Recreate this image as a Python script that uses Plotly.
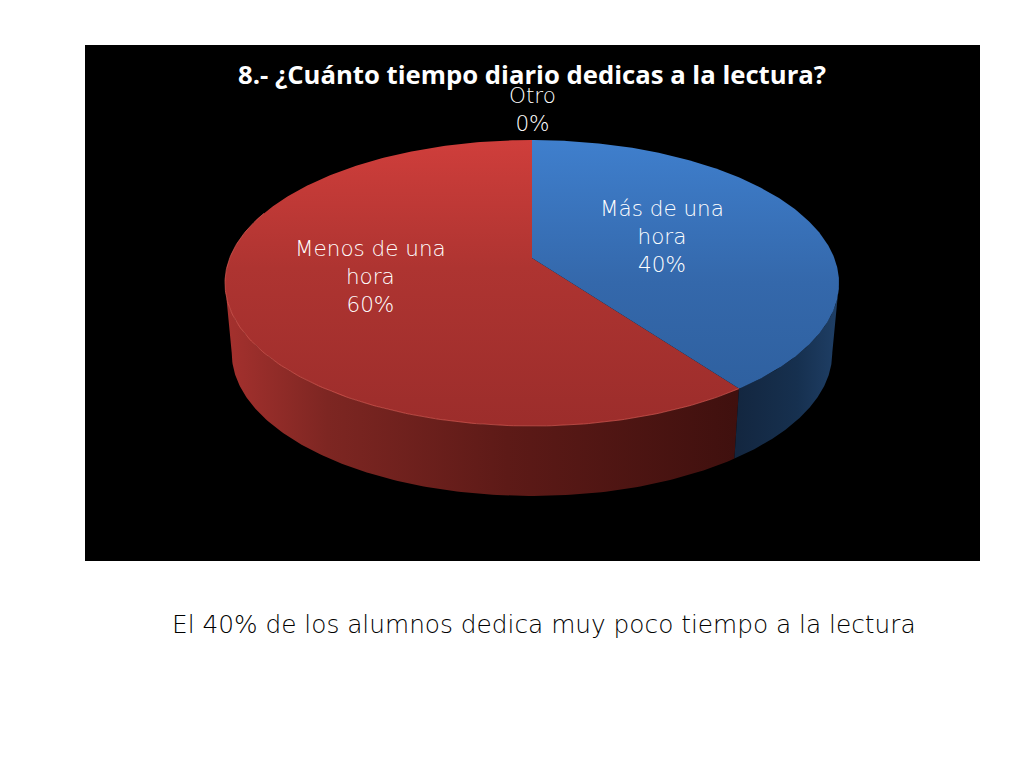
import numpy as np
import plotly.graph_objects as go

# ---- data
categories = ["Más de una hora", "Menos de una hora", "Otro"]
label_lines = ["Más de una<br>hora", "Menos de una<br>hora", "Otro"]
values = [40, 60, 0]
title_text = "8.- ¿Cuánto tiempo diario dedicas a la lectura?"
caption_text = "El 40% de los alumnos dedica muy poco tiempo a la lectura"

# ---- styling
top_scales = [
    [[0, "#3f7fcd"], [0.5, "#3468ab"], [1, "#2d5e9c"]],
    [[0, "#cf3e3b"], [0.45, "#ae3431"], [1, "#9c2d2b"]],
]
wall_scales = [
    [[0, "#13263f"], [0.6, "#16304f"], [1, "#1f3f66"]],
    [[0, "#a5312e"], [0.2, "#7d2622"], [0.55, "#5d1a17"], [1, "#3f100e"]],
]
slice_order = [1, 0]
LABEL_FONT = "DejaVu Sans ExtraLight, DejaVu Sans Light, DejaVu Sans"
TITLE_FONT = "Open Sans"

# ---- perspective model of the disc (in reference pixels)
CX, CY = 532.0, 258.0
A, B, K = 138.6, 302.3, -0.175
DEPTH = 70.0
XSHRINK = 0.978
FRONT = (100.0, 260.0)


def project(theta_deg, lower=False):
    t = np.radians(theta_deg)
    u, v = np.sin(t), -np.cos(t)
    d = 1 + K * v
    x, y = B * u / d, A * v / d
    if lower:
        return CX + XSHRINK * x, CY + y + DEPTH
    return CX + x, CY + y


# slice angles, clockwise from 12 o'clock, from the values
total = sum(values)
edges = np.concatenate([[0], np.cumsum(values)]) * 360.0 / total

fig = go.Figure()

# side walls
for i in slice_order:
    a0, a1 = max(edges[i], FRONT[0]), min(edges[i + 1], FRONT[1])
    if a1 <= a0:
        continue
    th = np.linspace(a0, a1, 160)
    xt, yt = project(th)
    xb, yb = project(th[::-1], lower=True)
    xs = np.concatenate([xt, xb, xt[:1]])
    ys = np.concatenate([yt, yb, yt[:1]])
    fig.add_trace(go.Scatter(
        x=xs, y=ys, mode="lines", line=dict(width=0), fill="toself",
        fillgradient=dict(type="horizontal", colorscale=wall_scales[i],
                          start=float(xs.min()), stop=float(xs.max())),
        hoverinfo="skip", showlegend=False, name=categories[i] + " (lado)",
    ))

# top faces
for i in slice_order:
    th = np.linspace(edges[i], edges[i + 1], 300)
    xt, yt = project(th)
    xs = np.concatenate([[CX], xt, [CX]])
    ys = np.concatenate([[CY], yt, [CY]])
    fig.add_trace(go.Scatter(
        x=xs, y=ys, mode="lines", line=dict(width=0), fill="toself",
        fillgradient=dict(type="vertical", colorscale=top_scales[i],
                          start=float(project(0.0)[1]), stop=float(project(180.0)[1])),
        hoverinfo="skip", showlegend=False, name=categories[i],
    ))

# light rim on the red slice
th = np.linspace(max(edges[1], FRONT[0]), 290, 200)
xr, yr = project(th)
fig.add_trace(go.Scatter(x=xr, y=yr, mode="lines",
                         line=dict(color="rgba(225,95,88,0.65)", width=1),
                         hoverinfo="skip", showlegend=False))

# data labels
label_xy = [(662, 236), (370, 276), (532, 109)]
annotations = []
for lab, val, (lx, ly) in zip(label_lines, values, label_xy):
    annotations.append(dict(
        x=lx, y=ly, xref="x", yref="y", xanchor="center", yanchor="middle",
        text=f"{lab}<br>{val}%", showarrow=False,
        font=dict(family="DejaVu Sans", size=21.5, weight=300, color="#ffffff"),
    ))
annotations.append(dict(
    x=544, y=624, xref="x", yref="y", xanchor="center", yanchor="middle",
    text=caption_text, showarrow=False,
    font=dict(family="DejaVu Sans", size=24.8, weight=300, color="#000000"),
))
annotations.append(dict(
    x=532, y=74, xref="x", yref="y", xanchor="center", yanchor="middle",
    text=f"<b>{title_text}</b>", showarrow=False,
    font=dict(family=TITLE_FONT, size=25.7, color="#ffffff"),
))

fig.update_layout(
    width=1024, height=768, margin=dict(l=0, r=0, t=0, b=0),
    paper_bgcolor="white", plot_bgcolor="white",
    xaxis=dict(range=[0, 1024], visible=False, fixedrange=True),
    yaxis=dict(range=[768, 0], visible=False, fixedrange=True),
    shapes=[dict(type="rect", xref="x", yref="y", x0=85, x1=980, y0=45, y1=561,
                 fillcolor="black", line=dict(width=0), layer="below")],
    annotations=annotations,
    showlegend=False,
)

fig.write_html("out.html", config={"displayModeBar": False},
               post_script="document.body.style.margin='0';")
